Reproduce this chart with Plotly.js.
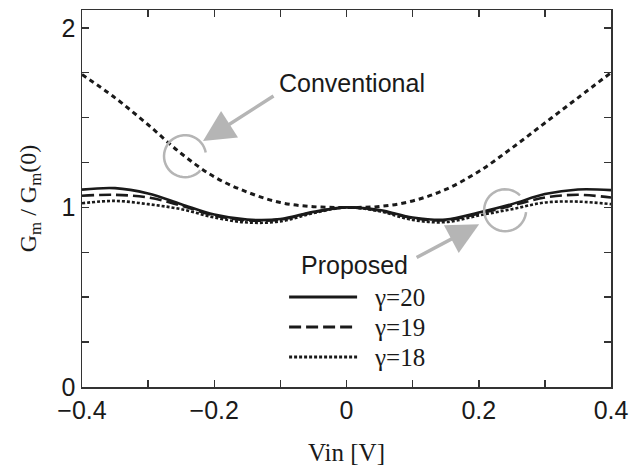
<!DOCTYPE html>
<html>
<head>
<meta charset="utf-8">
<script src="https://cdn.plot.ly/plotly-3.0.1.min.js"></script>
<style>html,body{margin:0;padding:0;background:#fff;}#chart{width:639px;height:466px;}</style>
</head>
<body>
<div id="chart"></div>
<script>
// ---- data ----
const vin = [-0.40,-0.35,-0.30,-0.25,-0.20,-0.15,-0.10,-0.05,0.00,0.05,0.10,0.15,0.20,0.25,0.30,0.35,0.40];
const conventional = [1.74,1.61,1.46,1.30,1.17,1.085,1.027,1.004,1.00,1.005,1.036,1.10,1.20,1.33,1.47,1.61,1.75];
const gamma20 = [1.099,1.107,1.077,1.018,0.960,0.932,0.935,0.975,1.00,0.985,0.944,0.932,0.971,1.018,1.074,1.100,1.096];
const gamma19 = [1.065,1.070,1.055,1.010,0.955,0.928,0.932,0.972,1.00,0.982,0.940,0.928,0.965,1.010,1.055,1.070,1.055];
const gamma18 = [1.023,1.036,1.018,0.990,0.944,0.916,0.922,0.968,1.00,0.978,0.930,0.918,0.955,0.990,1.027,1.032,1.018];
const seriesNames = ['γ=20','γ=19','γ=18'];
const xTickVals = [-0.4,-0.3,-0.2,-0.1,0,0.1,0.2,0.3,0.4];
const xTickText = ['\u22120.4','','\u22120.2','','0','','0.2','','0.4'];
const yTickVals = [0,0.25,0.5,0.75,1,1.25,1.5,1.75,2];
const yTickText = ['0','','','','1','','','','2'];

// ---- styles ----
const ink = '#1a1a1a';
const grey = '#b5b5b5';
const sans = 'Liberation Sans, Arial, sans-serif';
const serif = 'Liberation Serif, Times New Roman, serif';
const dashes = ['solid','12px,5px','3px,2px'];
const proposed = [gamma20, gamma19, gamma18];

const traces = [{
  x: vin, y: conventional, mode: 'lines', name: 'Conventional',
  line: {color: ink, width: 3, dash: '5px,4px', shape: 'spline', smoothing: 1}
}];
proposed.forEach((ys, i) => traces.push({
  x: vin, y: ys, mode: 'lines', name: seriesNames[i],
  line: {color: ink, width: 2.6, dash: dashes[i], shape: 'spline', smoothing: 1}
}));

function arc(r, a0, a1) {
  const pts = [];
  const n = 40;
  for (let k = 0; k <= n; k++) {
    const a = (a0 + (a1 - a0) * k / n) * Math.PI / 180;
    pts.push((r * Math.cos(a)).toFixed(2) + ',' + (r * Math.sin(a)).toFixed(2));
  }
  return 'M' + pts.join(' L');
}

const shapes = [
  {type: 'path', xref: 'x', yref: 'y', xsizemode: 'pixel', ysizemode: 'pixel',
   xanchor: -0.2442, yanchor: 1.285, path: arc(21, 10, 317), line: {color: grey, width: 2.5}},
  {type: 'path', xref: 'x', yref: 'y', xsizemode: 'pixel', ysizemode: 'pixel',
   xanchor: 0.2399, yanchor: 0.984, path: arc(21, 45, 355), line: {color: grey, width: 2.5}}
];
const legendY = [0.501, 0.334, 0.167];
legendY.forEach((yy, i) => shapes.push({
  type: 'line', xref: 'x', yref: 'y', x0: -0.0868, x1: 0.016, y0: yy, y1: yy,
  line: {color: ink, width: 3, dash: dashes[i]}
}));

const annotations = [
  {x: 0.0085, y: 1.692, xref: 'x', yref: 'y', text: 'Conventional', showarrow: false,
   xanchor: 'center', yanchor: 'middle', font: {family: sans, size: 25, color: ink}},
  {x: 0.0115, y: 0.678, xref: 'x', yref: 'y', text: 'Proposed', showarrow: false,
   xanchor: 'center', yanchor: 'middle', font: {family: sans, size: 25, color: ink}},
  {x: -0.217, y: 1.369, xref: 'x', yref: 'y', text: '', showarrow: true,
   ax: 72, ay: -46, arrowhead: 2, arrowsize: 1.8, arrowwidth: 3.5, arrowcolor: grey, standoff: 0},
  {x: 0.2006, y: 0.906, xref: 'x', yref: 'y', text: '', showarrow: true,
   ax: -64, ay: 34, arrowhead: 2, arrowsize: 1.8, arrowwidth: 3.5, arrowcolor: grey, standoff: 0}
];
seriesNames.forEach((nm, i) => annotations.push({
  x: 0.0387, y: legendY[i], xref: 'x', yref: 'y', text: nm, showarrow: false,
  xanchor: 'left', yanchor: 'middle', font: {family: serif, size: 25, color: ink}
}));

const axisCommon = {
  showline: true, linecolor: '#333', linewidth: 1.5, mirror: 'ticks',
  ticks: 'inside', ticklen: 7, tickwidth: 1.5, tickcolor: '#333',
  showgrid: false, zeroline: false, tickmode: 'array',
  tickfont: {family: sans, size: 25, color: ink}
};

const layout = {
  width: 639, height: 466,
  margin: {l: 82, r: 28, t: 10, b: 79},
  paper_bgcolor: '#fff', plot_bgcolor: '#fff',
  showlegend: false,
  xaxis: Object.assign({}, axisCommon, {
    range: [-0.4, 0.4], tickvals: xTickVals, ticktext: xTickText,
    title: {text: 'Vin [V]', font: {family: serif, size: 25, color: ink}, standoff: 22}
  }),
  yaxis: Object.assign({}, axisCommon, {
    range: [0, 2.099], tickvals: yTickVals, ticktext: yTickText,
    title: {text: 'G<sub>m</sub> / G<sub>m</sub>(0)', font: {family: serif, size: 24, color: ink}, standoff: 18}
  }),
  shapes: shapes,
  annotations: annotations
};

Plotly.newPlot('chart', traces, layout, {staticPlot: true, displayModeBar: false});
</script>
</body>
</html>
